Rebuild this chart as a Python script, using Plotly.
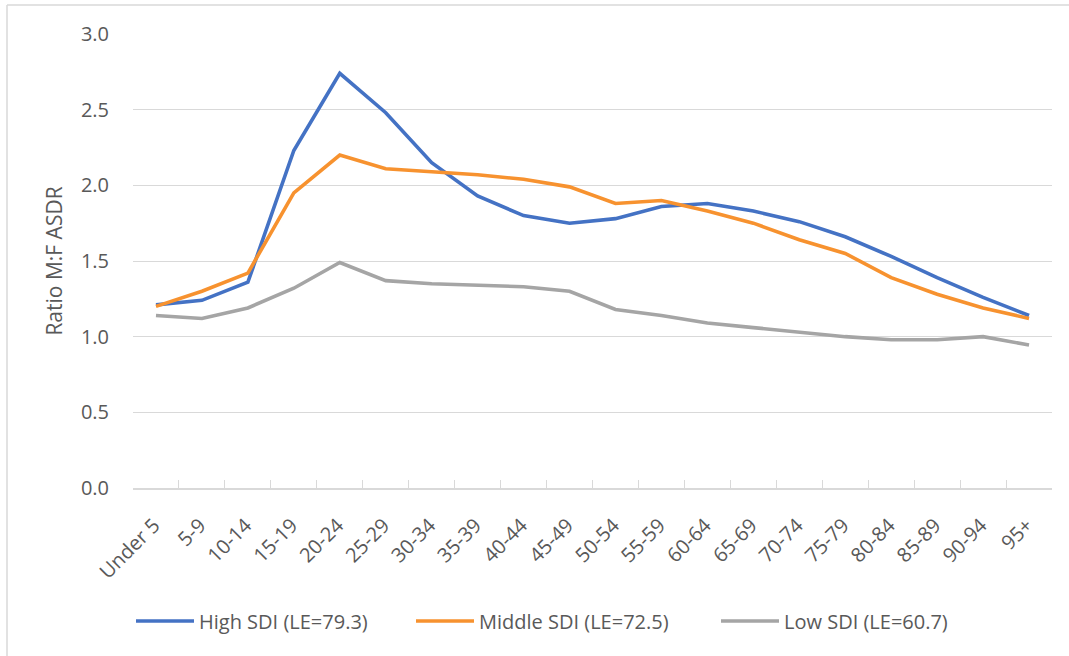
import plotly.graph_objects as go

age_groups = ["Under 5", "5-9", "10-14", "15-19", "20-24", "25-29", "30-34", "35-39",
              "40-44", "45-49", "50-54", "55-59", "60-64", "65-69", "70-74", "75-79",
              "80-84", "85-89", "90-94", "95+"]

high_sdi = [1.21, 1.24, 1.36, 2.23, 2.74, 2.48, 2.15, 1.93, 1.80, 1.75,
            1.78, 1.86, 1.88, 1.83, 1.76, 1.66, 1.53, 1.39, 1.26, 1.14]
middle_sdi = [1.20, 1.30, 1.42, 1.95, 2.20, 2.11, 2.09, 2.07, 2.04, 1.99,
              1.88, 1.90, 1.83, 1.75, 1.64, 1.55, 1.39, 1.28, 1.19, 1.12]
low_sdi = [1.14, 1.12, 1.19, 1.32, 1.49, 1.37, 1.35, 1.34, 1.33, 1.30,
           1.18, 1.14, 1.09, 1.06, 1.03, 1.00, 0.98, 0.98, 1.00, 0.945]

series_names = ["High SDI (LE=79.3)", "Middle SDI (LE=72.5)", "Low SDI (LE=60.7)"]
series_colors = ["#4472C4", "#F7922F", "#A5A5A5"]
y_ticks = [0.0, 0.5, 1.0, 1.5, 2.0, 2.5, 3.0]

font_family = "Open Sans, Liberation Sans, sans-serif"
text_color = "#595959"

L, R, T, B = 133, 17, 34, 168
W, H = 1069, 656
PW, PH = W - L - R, H - T - B


def px_x(p):
    return (p - L) / PW


def px_y(p):
    return (H - B - p) / PH


legend_ids = ["legend", "legend2", "legend3"]
legend_left_px = [131, 411, 716]

fig = go.Figure()
for name, vals, col, lid in zip(series_names, [high_sdi, middle_sdi, low_sdi],
                                series_colors, legend_ids):
    fig.add_trace(go.Scatter(x=age_groups, y=vals, mode="lines", name=name,
                             line=dict(color=col, width=3.6), legend=lid))

legend_common = dict(orientation="h", yanchor="middle", y=px_y(621), xanchor="left",
                     font=dict(size=20, color=text_color), itemwidth=58,
                     bgcolor="rgba(0,0,0,0)")

fig.update_layout(
    width=W, height=H,
    margin=dict(l=L, r=R, t=T, b=B, autoexpand=False),
    paper_bgcolor="white", plot_bgcolor="white",
    font=dict(family=font_family, size=14, color=text_color),
    showlegend=True,
    legend=dict(x=px_x(legend_left_px[0]), **legend_common),
    legend2=dict(x=px_x(legend_left_px[1]), **legend_common),
    legend3=dict(x=px_x(legend_left_px[2]), **legend_common),
    shapes=[
        dict(type="line", xref="paper", yref="paper",
             x0=px_x(7), x1=px_x(1080), y0=px_y(5), y1=px_y(5),
             line=dict(color="#D9D9D9", width=1.5)),
        dict(type="line", xref="paper", yref="paper",
             x0=px_x(7), x1=px_x(7), y0=px_y(5), y1=px_y(670),
             line=dict(color="#D9D9D9", width=1.5)),
    ],
)

fig.update_xaxes(
    type="category", range=[-0.5, len(age_groups) - 0.5],
    tickangle=-45, showgrid=False, automargin=False,
    showline=True, linecolor="#D9D9D9", linewidth=1.5,
    ticks="inside", tickson="boundaries", ticklen=8, tickcolor="#D9D9D9",
    tickfont=dict(size=20, color=text_color), ticklabelstandoff=16,
    ticklabelshift=-2,
)
fig.update_yaxes(
    range=[0, 3.0], tickvals=y_ticks, ticktext=[f"{v:.1f}" for v in y_ticks],
    showgrid=True, gridcolor="#D9D9D9", gridwidth=1.2, automargin=False,
    zeroline=False, showline=False, ticks="",
    tickfont=dict(size=20, color=text_color), ticklabelstandoff=23,
    title=dict(text="Ratio M:F ASDR", font=dict(size=21, color=text_color), standoff=12),
)

fig.write_html("out.html", config={"displayModeBar": False},
               post_script="document.body.style.margin='0px';")
